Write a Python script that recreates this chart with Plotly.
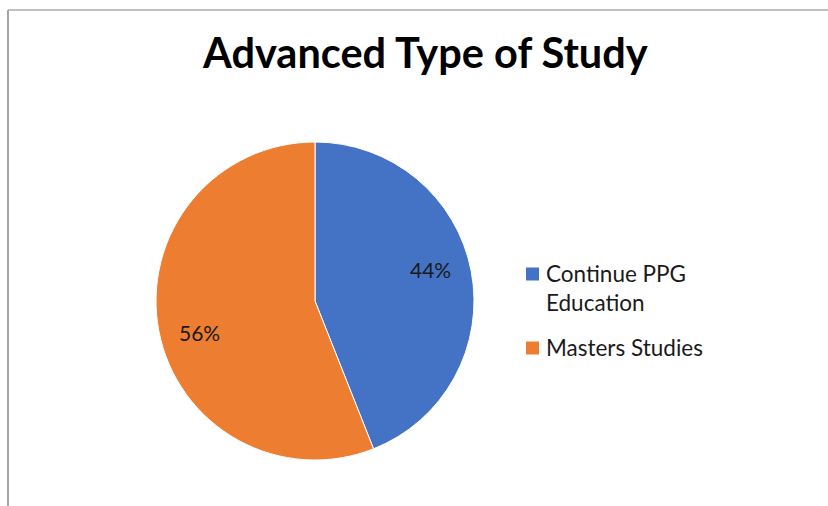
import math
import plotly.graph_objects as go

# Study-path shares
categories = ["Continue PPG<br>Education", "Masters Studies"]
shares = [44, 56]
colors = ["#4472C4", "#ED7D31"]

W, H = 828, 506
cx, cy, r = 315, 301, 159  # pie centre / radius in pixels
FONT = "Lato, Carlito, sans-serif"

fig = go.Figure()
fig.add_trace(go.Pie(
    labels=categories,
    values=shares,
    sort=False,
    direction="clockwise",
    rotation=0,
    marker=dict(colors=colors, line=dict(color="white", width=1)),
    textinfo="none",
    hoverinfo="label+percent",
    showlegend=False,
    domain=dict(x=[(cx - r) / W, (cx + r) / W], y=[1 - (cy + r) / H, 1 - (cy - r) / H]),
))


def px_x(x):
    return x / W


def px_y(y):
    return 1 - y / H


# Percentage labels placed near the middle angle of each slice
total = sum(shares)
cum = 0
annotations = []
label_radius = 0.755 * r
angle_shift = math.radians(-4.5)
for v in shares:
    mid = (cum + v / 2) / total * 2 * math.pi + angle_shift
    cum += v
    annotations.append(dict(
        x=px_x(cx + label_radius * math.sin(mid)),
        y=px_y(cy - label_radius * math.cos(mid)),
        xref="paper", yref="paper", xanchor="center", yanchor="middle",
        text=f"{round(v / total * 100)}%", showarrow=False,
        font=dict(size=21, color="#1a1a1a", family=FONT),
    ))

# Chart title
annotations.append(dict(
    x=px_x(425), y=px_y(52), xref="paper", yref="paper",
    xanchor="center", yanchor="middle",
    text="<b>Advanced Type of Study</b>", showarrow=False,
    font=dict(size=41.5, color="black", family=FONT),
))

# Legend: colour square + label for each category
shapes = []
legend_rows = [274, 348]  # first-line centre of each entry
for lab, col, yc in zip(categories, colors, legend_rows):
    shapes.append(dict(
        type="rect", xref="paper", yref="paper",
        x0=px_x(526), x1=px_x(539), y0=px_y(yc - 6.5), y1=px_y(yc + 6.5),
        fillcolor=col, line=dict(width=0),
    ))
    annotations.append(dict(
        x=px_x(544), y=px_y(yc - 16), xref="paper", yref="paper",
        xanchor="left", yanchor="top", align="left",
        text=lab, showarrow=False,
        font=dict(size=22.5, color="#1a1a1a", family=FONT),
    ))

# Chart frame edges
shapes += [
    dict(type="line", xref="paper", yref="paper", x0=px_x(8), x1=1, y0=px_y(10), y1=px_y(10),
         line=dict(color="#ABABAB", width=1.5)),
    dict(type="line", xref="paper", yref="paper", x0=px_x(8), x1=px_x(8), y0=px_y(10), y1=0,
         line=dict(color="#A6A6A6", width=2)),
]

fig.update_layout(
    width=W, height=H,
    margin=dict(l=0, r=0, t=0, b=0),
    paper_bgcolor="white",
    plot_bgcolor="white",
    annotations=annotations,
    shapes=shapes,
    showlegend=False,
)

fig.write_html("out.html")
